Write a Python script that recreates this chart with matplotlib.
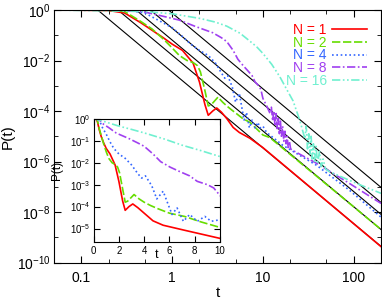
import numpy as np
import matplotlib.pyplot as plt
from matplotlib.ticker import FixedLocator, LogLocator, NullFormatter, FuncFormatter, LogFormatterSciNotation

plt.rcParams['font.family'] = ['Liberation Sans', 'DejaVu Sans']

# -----------------------
# data (t, log10 P)
# -----------------------
labels = ["N = 1", "N = 2", "N = 4", "N = 8", "N = 16"]
colors = ["#ff0000", "#66dd00", "#3366ff", "#a040f0", "#70f0d0"]

t_n1 = [0, 0.05, 0.2, 0.3, 0.45, 0.6, 0.8, 1.0, 1.3, 1.7, 2.0, 2.3, 2.5, 2.8, 3.1, 3.5, 4.0, 4.7, 5.5, 7.2, 10, 200]
lp_n1 = [0, 0, -0.02, -0.12, -0.5, -0.8, -1.1, -1.35, -1.6, -2.1, -2.85, -3.75, -4.17, -4.0, -3.88, -4.05,
         -4.3, -4.65, -4.85, -5.08, -5.45, -9.37]

t_n2 = [0, 0.05, 0.2, 0.3, 0.45, 0.6, 0.8, 1.0, 1.2, 1.46, 1.7, 1.9, 2.05, 2.3, 2.5, 2.7, 3.2, 3.6, 4.0, 4.5,
        5.1, 6.0, 7.2, 8.5, 10, 11.9, 200]
lp_n2 = [0, 0, -0.01, -0.06, -0.45, -0.75, -1.15, -1.5, -1.8, -2.0, -2.08, -2.2, -2.45, -3.2, -3.8, -3.75,
         -3.45, -3.65, -3.8, -3.95, -4.1, -4.3, -4.45, -4.7, -4.95, -5.05, -8.69]

t_n4 = [0, 0.05, 0.2, 0.35, 0.5, 0.7, 1.0, 1.3, 1.6, 2.0, 2.5, 3.0, 3.5, 3.8, 4.1, 4.6, 5.0, 5.5, 6.2, 6.6,
        7.1, 7.6, 8.2, 8.8, 9.3, 10, 11, 16.6, 39, 90, 200]
lp_n4 = [0, 0, -0.005, -0.03, -0.12, -0.4, -0.7, -1.05, -1.35, -1.6, -1.8, -2.1, -2.5, -2.7, -2.6, -3.05,
         -3.65, -3.3, -4.36, -4.06, -4.67, -4.36, -4.67, -4.45, -4.67, -4.6, -4.85, -5.36, -6.15, -7.14, -8.2]

t_n8 = [0, 0.05, 0.3, 0.5, 0.8, 1.2, 1.8, 2.8, 3.5, 4.0, 4.7, 5.3, 6.05, 6.8, 7.6, 8.2, 9.0, 9.5, 10, 11,
        12, 12.4, 12.8, 13.2, 13.6, 14.0, 14.4, 14.8, 15.2, 15.6, 16.0, 16.5, 17.0, 17.5, 18.0, 18.5, 19.0,
        19.6, 20.2, 21.3, 39, 90, 200]
lp_n8 = [0, 0, -0.01, -0.08, -0.25, -0.4, -0.65, -0.9, -1.1, -1.25, -1.6, -1.95, -2.2, -2.4, -2.6, -2.85,
         -3.0, -3.15, -3.5, -3.8, -4.1, -3.85, -4.4, -4.0, -4.6, -4.1, -4.7, -4.3, -4.9, -4.4, -5.0, -4.6,
         -5.2, -4.8, -5.3, -5.0, -5.45, -5.2, -5.5, -5.56, -6.07, -6.87, -7.66]

t_n16 = [0, 0.05, 0.5, 1.0, 2.0, 3.0, 4.0, 5.6, 7.0, 8.5, 10, 12.5, 15.4, 18, 21.5, 25.5, 29, 30, 31, 32,
         33, 34, 35, 36, 37, 38.5, 40, 42, 44, 46, 49, 54, 108, 200]
lp_n16 = [0, 0, -0.06, -0.15, -0.33, -0.48, -0.64, -0.92, -1.2, -1.45, -1.72, -2.15, -2.65, -3.1, -3.6,
          -4.37, -5.1, -4.6, -5.5, -4.9, -5.7, -5.0, -5.9, -5.3, -6.0, -5.4, -6.1, -5.6, -6.2, -5.9, -6.3,
          -6.4, -6.87, -7.26]

# asymptotes A * t^-3 (log10 A)
fit_logA = [-2.46, -1.79, -1.19, -0.72, -0.12]
fit_power = -3

series_t = [t_n1, t_n2, t_n4, t_n8, t_n16]
series_lp = [lp_n1, lp_n2, lp_n4, lp_n8, lp_n16]
dash_styles = [None, (5, 1.6), (1.0, 1.6), (5, 1.5, 1, 1.5), (5, 1.5, 1, 1.5, 1, 1.5)]

# -----------------------
# figure
# -----------------------
fig = plt.figure(figsize=(3.82, 3.04), dpi=100)
ax = fig.add_axes([0.1414, 0.1365, 0.856, 0.8306])

t_span = np.array([0.05, 200.0])
for logA in fit_logA:
    ax.plot(t_span, 10**logA * t_span**fit_power, color="black", lw=0.8, zorder=1)

for t, lp, c, lab, ds in zip(series_t, series_lp, colors, labels, dash_styles):
    t = np.asarray(t, float)
    p = 10**np.asarray(lp, float)
    m = t > 0
    line, = ax.plot(t[m], p[m], color=c, lw=1.2, label=lab, zorder=2)
    if ds is not None:
        line.set_dashes(ds)

ax.set_xscale("log")
ax.set_yscale("log")
ax.set_xlim(0.05, 200)
ax.set_ylim(1e-10, 1)

ax.xaxis.set_major_locator(FixedLocator([0.1, 1, 10, 100]))
ax.xaxis.set_major_formatter(FuncFormatter(lambda v, pos: "%g" % v))
ax.xaxis.set_minor_locator(LogLocator(base=10, subs=(2, 5)))
ax.xaxis.set_minor_formatter(NullFormatter())
ax.yaxis.set_major_locator(FixedLocator([10.0**k for k in range(-10, 1, 2)]))
ax.yaxis.set_major_formatter(LogFormatterSciNotation())
ax.yaxis.set_minor_locator(FixedLocator([10.0**k for k in range(-9, 0, 2)]))
ax.yaxis.set_minor_formatter(NullFormatter())

ax.tick_params(which="both", direction="in", top=True, right=True, labelsize=10)
ax.tick_params(which="major", length=5)
ax.tick_params(which="minor", length=3)
ax.tick_params(axis="x", pad=6)
ax.tick_params(axis="y", pad=2.5)

ax.set_xlabel("t", fontsize=11)
ax.set_ylabel("P(t)", fontsize=11)
ax.xaxis.set_label_coords(0.5, -0.095)
ax.yaxis.set_label_coords(-0.12, 0.5)

ax.legend(loc="upper right", bbox_to_anchor=(0.957, 0.95), markerfirst=False, frameon=False,
          labelcolor="linecolor", fontsize=10, handlelength=2.5, handletextpad=0.4,
          labelspacing=-0.08, borderaxespad=0, borderpad=0)

# -----------------------
# inset (linear t)
# -----------------------
axi = fig.add_axes([0.245, 0.205, 0.331, 0.404])
for t, lp, c, ds in zip(series_t, series_lp, colors, dash_styles):
    line, = axi.plot(t, 10**np.asarray(lp, float), color=c, lw=1.2)
    if ds is not None:
        line.set_dashes(ds)

axi.set_yscale("log")
axi.set_xlim(0, 10)
axi.set_ylim(10**-5.6, 1)
axi.xaxis.set_major_locator(FixedLocator([0, 2, 4, 6, 8, 10]))
axi.yaxis.set_major_locator(FixedLocator([10.0**k for k in range(-5, 1)]))
axi.yaxis.set_major_formatter(LogFormatterSciNotation())
axi.yaxis.set_minor_locator(FixedLocator([]))
axi.tick_params(which="both", direction="in", top=True, right=True, labelsize=7, length=4)
axi.tick_params(axis="x", pad=3)
axi.tick_params(axis="y", pad=2)
axi.set_xlabel("t", fontsize=9)
axi.set_ylabel("P(t)", fontsize=8.5)
axi.xaxis.set_label_coords(0.5, -0.06)
axi.yaxis.set_label_coords(-0.245, 0.58)

fig.savefig("out.png", dpi=100)
